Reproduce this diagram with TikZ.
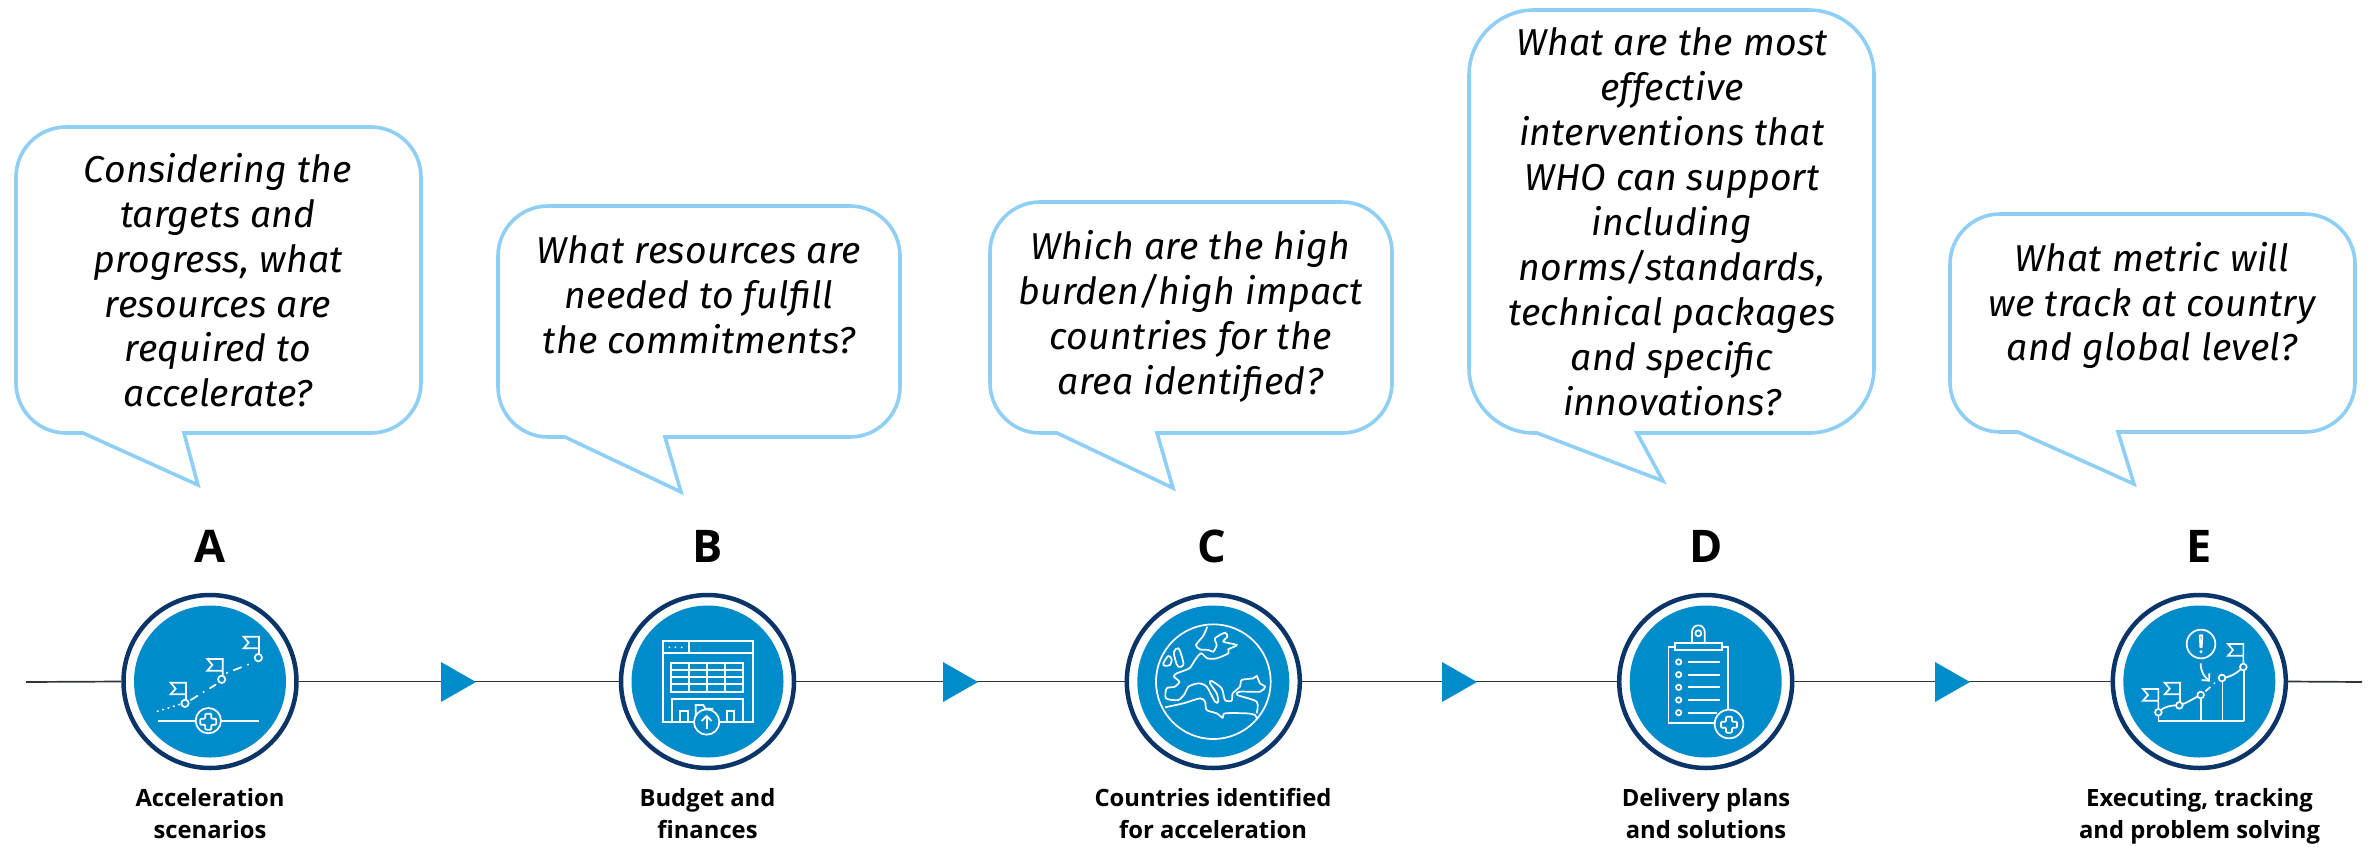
\documentclass[tikz,border=0pt]{standalone}
\usepackage{fontspec}
\usetikzlibrary{shapes.geometric}
\setmainfont{Open Sans}
\newfontfamily\qfont[LetterSpace=0.8]{Fira Sans}
\definecolor{bubblec}{HTML}{90CFF5}
\definecolor{navyc}{HTML}{0B3468}
\definecolor{bluec}{HTML}{008CCB}
\definecolor{linec}{HTML}{2F3540}
\newcommand{\qs}{\rule[-6pt]{0pt}{16pt}}
\newcommand{\ls}{\rule[-4pt]{0pt}{12pt}}
\tikzset{
  bubbleline/.style={draw=bubblec,line width=1.8pt,fill=white,line join=miter},
  question/.style={font=\qfont\itshape\fontsize{18.7}{22.45}\selectfont,align=center,inner sep=0pt,text=black},
  caption/.style={font=\bfseries\fontsize{11.9}{16}\selectfont,align=center,inner sep=0pt,text=black},
  letter/.style={font=\bfseries\fontsize{22.5}{24}\selectfont,inner sep=0pt,anchor=base,text=black},
  ring/.style={circle,draw=navyc,line width=2.25pt,fill=white,minimum size=86.5pt,inner sep=0pt},
  disc/.style={circle,fill=bluec,minimum size=76pt,inner sep=0pt},
  tri/.style={isosceles triangle,isosceles triangle stretches,fill=bluec,minimum height=17.5pt,minimum width=20pt,inner sep=0pt,outer sep=0pt,anchor=apex},
  axis/.style={draw=linec,line width=0.85pt},
  ico/.style={draw=white,line width=0.85pt,line join=miter,line cap=butt},
  icf/.style={draw=white,fill=bluec,line width=0.85pt}
}
% #1 left, #2 right, #3 top, #4 bottom, #5 tail start, #6 tail back, #7 tip x, #8 tip y, #9 corner radius
\newcommand{\bubble}[9]{\draw[bubbleline] (#5,#4) -- ({#1+#9},#4)
  .. controls ({#1+0.45*#9},#4) and (#1,{#4-0.45*#9}) .. (#1,{#4-#9})
  -- (#1,{#3+#9})
  .. controls (#1,{#3+0.45*#9}) and ({#1+0.45*#9},#3) .. ({#1+#9},#3)
  -- ({#2-#9},#3)
  .. controls ({#2-0.45*#9},#3) and (#2,{#3+0.45*#9}) .. (#2,{#3+#9})
  -- (#2,{#4-#9})
  .. controls (#2,{#4-0.45*#9}) and ({#2-0.45*#9},#4) .. ({#2-#9},#4)
  -- (#6,#4) -- (#7,#8) -- cycle;}
\newcommand{\medcross}[4]{\draw[ico,rounded corners=0.5pt] ({#1-#4},{#2-#3}) -- ({#1+#4},{#2-#3}) -- ({#1+#4},{#2-#4}) -- ({#1+#3},{#2-#4}) -- ({#1+#3},{#2+#4}) -- ({#1+#4},{#2+#4}) -- ({#1+#4},{#2+#3}) -- ({#1-#4},{#2+#3}) -- ({#1-#4},{#2+#4}) -- ({#1-#3},{#2+#4}) -- ({#1-#3},{#2-#4}) -- ({#1-#4},{#2-#4}) -- cycle;}
\newcommand{\flagicon}[3]{\draw[ico] (#1,#3) -- (#1,#2) -- ({#1-46},#2) -- ({#1-31},{#2+18}) -- ({#1-46},{#2+35}) -- (#1,{#2+35});}
\begin{document}
\begin{tikzpicture}[x=0.5pt,y=-0.5pt]
\useasboundingbox (0,0) rectangle (2369,846);
% callouts
\bubble{16}{421}{127}{433}{83}{184}{198}{485}{50}
\bubble{498}{900}{206}{437}{565}{665}{681}{492}{50}
\bubble{990}{1392}{202}{433}{1057}{1157}{1173}{488}{50}
\bubble{1469}{1874}{10}{433}{1537}{1637}{1663}{481}{65}
\bubble{1950}{2355}{214}{432}{2018}{2118}{2134}{484}{50}
\node[question] (qa) at (218,286) {\qs Considering the\\targets and\\progress, what\\resources are\\required to\\accelerate?\qs};
\node[question] (qb) at (699,300.5) {\qs What resources are\\needed to fulfill\\the commitments?\qs};
\node[question] (qc) at (1190.5,318.5) {\qs Which are the high\\burden/high impact\\countries for the\\area identified?\qs};
\node[question] (qd) at (1672,227.5) {\qs What are the most\\effective\\interventions that\\WHO can support\\including\\norms/standards,\\technical packages\\and specific\\innovations?\qs};
\node[question] (qe) at (2152,307.5) {\qs What metric will\\we track at country\\and global level?\qs};
% letters
\node[letter] (la) at (210,562) {A};
\node[letter] (lb) at (707.5,562) {B};
\node[letter] (lc) at (1212,562) {C};
\node[letter] (ld) at (1706,562) {D};
\node[letter] (le) at (2199.5,562) {E};
% timeline
\coordinate (lstart) at (26,682);
\coordinate (lend) at (2362,682);
\node[ring] (ca) at (210,681.5) {};
\node[ring] (cb) at (707.5,681.5) {};
\node[ring] (cc) at (1213.3,681.5) {};
\node[ring] (cd) at (1705.7,681.5) {};
\node[ring] (ce) at (2199.3,681.5) {};
\draw[axis] (lstart) -- (ca.west);
\draw[axis] (ca.east) -- (cb.west);
\draw[axis] (cb.east) -- (cc.west);
\draw[axis] (cc.east) -- (cd.west);
\draw[axis] (cd.east) -- (ce.west);
\draw[axis] (ce.east) -- (lend);
\node[tri] (t1) at (476,682) {};
\node[tri] (t2) at (978,682) {};
\node[tri] (t3) at (1477,682) {};
\node[tri] (t4) at (1970,682) {};
\node[disc] (da) at (ca.center) {};
\node[disc] (db) at (cb.center) {};
\node[disc] (dc) at (cc.center) {};
\node[disc] (dd) at (cd.center) {};
\node[disc] (de) at (ce.center) {};
% captions
\node[caption] (ta) at (210,817) {\ls Acceleration\\scenarios\ls};
\node[caption] (tb) at (707.5,817) {\ls Budget and\\finances\ls};
\node[caption] (tc) at (1213,817) {\ls Countries identified\\for acceleration\ls};
\node[caption] (td) at (1706,817) {\ls Delivery plans\\and solutions\ls};
\node[caption] (te) at (2199.5,817) {\ls Executing, tracking\\and problem solving\ls};
% icon A
\begin{scope}[shift={(100,570)},scale=1/3]
\flagicon{258}{338}{390}
\flagicon{368}{267}{318}
\flagicon{477}{200}{253}
\draw[ico] (255,400) circle (11);
\draw[ico] (365,328) circle (11);
\draw[ico] (475,263) circle (11);
\draw[ico,line cap=round,dash pattern=on 0.4pt off 2.4pt] (172,424) -- (240,403);
\draw[ico,line cap=round,dash pattern=on 4pt off 3.5pt on 0.3pt off 3.5pt] (272,390) -- (347,344);
\draw[ico,line cap=round,dash pattern=on 0.3pt off 3.5pt on 4pt off 3.5pt] (380,309) -- (456,279);
\draw[ico] (173,452) -- (288,452);
\draw[ico] (364,452) -- (476,452);
\draw[ico] (325,452) circle (38);
\medcross{325}{455}{24}{9}
\end{scope}
% icon B
\begin{scope}[shift={(600,570)},scale=1/3]
\draw[ico] (188,213) rectangle (459,455);
\draw[ico] (188,250) -- (459,250);
\draw[ico] (266,213) -- (266,250);
\fill[white] (208,232) circle (3) (226,232) circle (3) (245,232) circle (3);
\draw[ico] (212,279) rectangle (428,365);
\foreach \yy in {301,322,343} \draw[ico] (212,\yy) -- (428,\yy);
\foreach \xx in {266,320,374} \draw[ico] (\xx,279) -- (\xx,365);
\draw[ico] (215,455) -- (215,386) -- (428,386) -- (428,455);
\draw[ico] (240,455) -- (240,423) -- (265,423) -- (265,455);
\draw[ico] (380,455) -- (380,423) -- (403,423) -- (403,455);
\draw[ico] (287,440) -- (287,405) -- (310,405) -- (316,416) -- (340,416);
\draw[icf] (320,456) circle (38);
\draw[ico] (320,477) -- (320,440);
\draw[ico] (305,453) -- (320,438) -- (335,453);
\end{scope}
% icon C
\begin{scope}[shift={(1100,570)},scale=1/3]
\draw[ico] (340,335) circle (172);
\draw[ico] plot[smooth,tension=0.45] coordinates {(322,170) (310,197) (288,225) (300,238) (325,240) (340,245) (350,225) (345,205) (375,188) (382,200) (370,215) (410,225) (385,238) (385,250) (350,265) (322,265) (303,250) (285,270) (268,295) (230,310) (222,320) (238,335) (225,350) (200,355) (198,385) (235,390) (255,370) (265,350) (295,340) (320,350) (345,395) (355,395) (350,370) (330,340) (335,333) (365,355) (375,390) (395,392) (398,370) (420,350) (425,330) (460,325) (470,318) (480,340) (495,350) (480,365) (420,365) (412,375) (470,395) (470,430)};
\draw[ico] plot[smooth,tension=0.45] coordinates {(195,412) (250,400) (300,385) (315,395) (320,420) (350,430) (368,443) (375,430) (440,430) (465,435) (470,445)};
\draw[ico] plot[smooth cycle,tension=0.6] coordinates {(190,280) (205,258) (215,268) (210,285) (195,287)};
\draw[ico] plot[smooth cycle,tension=0.6] coordinates {(222,245) (235,235) (245,258) (250,285) (235,290) (226,270)};
\end{scope}
% icon D
\begin{scope}[shift={(1600,570)},scale=1/3]
\draw[ico] (205,230) rectangle (384,460);
\draw[icf] (224,220) rectangle (366,240);
\draw[ico] (276,220) -- (276,185) arc[start angle=180,end angle=360,radius=19] -- (314,220);
\draw[ico] (295,190) circle (9);
\foreach \yy in {276,314,352,390,428} \draw[ico] (236,\yy) circle (8);
\foreach \yy in {276,314,352,390} \draw[ico] (263,\yy) -- (361,\yy);
\draw[ico] (263,428) -- (350,428);
\draw[icf] (387,462) circle (43);
\medcross{387}{464}{24}{9}
\end{scope}
% icon E
\begin{scope}[shift={(2090,570)},scale=1/3]
\draw[ico] (205,453) -- (462,453);
\draw[ico] (205,427) -- (205,453);
\draw[ico] (332,375) -- (332,453);
\draw[ico] (397,324) -- (397,453);
\draw[ico] (462,292) -- (462,453);
\draw[ico] (205,427) .. controls (220,410) and (245,405) .. (268,406);
\draw[ico] (268,406) .. controls (290,400) and (310,385) .. (332,375);
\draw[ico] (396,324) .. controls (420,322) and (440,310) .. (460,291);
\draw[ico] (346,364) -- (361,351);
\fill[white] (373,340) circle (3);
\draw[icf] (205,427) circle (10);
\draw[icf] (268,406) circle (10);
\draw[icf] (332,375) circle (10);
\draw[icf] (396,324) circle (10);
\draw[icf] (460,291) circle (10);
\flagicon{205}{357}{417}
\flagicon{270}{338}{396}
\flagicon{460}{222}{281}
\draw[ico] (333,222) circle (43);
\draw[ico,line join=round] (329,196) -- (337,196) -- (335,232) -- (331,232) -- cycle;
\fill[white] (333,245) circle (5);
\draw[ico] (332,280) .. controls (332,305) and (342,320) .. (357,332);
\draw[ico] (335,330) -- (357,332) -- (358,310);
\end{scope}
\end{tikzpicture}
\end{document}
